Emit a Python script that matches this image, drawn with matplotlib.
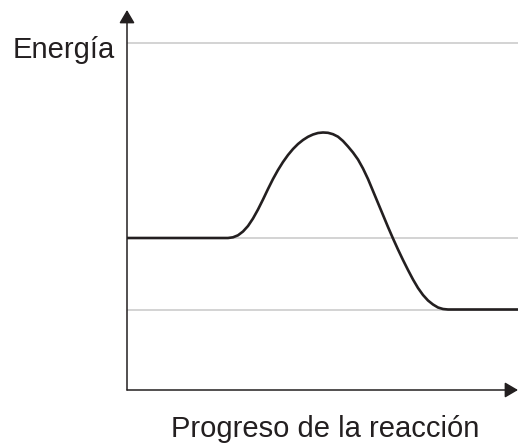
import numpy as np
import matplotlib.pyplot as plt

# ================================
# Datos (unidades arbitrarias)
# ================================

progreso = [0, 101, 106, 111, 116, 121, 126, 131, 136, 141, 146,
            151, 156, 161, 166, 171, 176, 181, 186, 191, 196,
            201, 206, 211, 216, 221, 226, 231, 236, 241, 246,
            251, 256, 261, 266, 271, 276, 281, 286, 291, 296,
            301, 306, 311, 316, 321, 391]
energia = [152, 152, 152.7, 154.7, 158.5, 164, 171.5, 180.5, 190.5, 201, 211,
           220, 228, 235, 241, 246, 250, 253.2, 255.5, 257, 257.5,
           257.2, 255.8, 253.3, 249, 243.5, 237.5, 230.5, 221.5, 211, 199,
           187, 175, 163, 151.5, 140.5, 130, 120, 110.5, 102, 95,
           89.5, 85.5, 82.5, 81, 80.5, 80.5]

niveles = [347, 152, 80.5]   # lineas guia grises

W, H = 518, 447
ink = "#231f20"

fig = plt.figure(figsize=(W / 100, H / 100), dpi=100)
ax = fig.add_axes([127 / W, (H - 390) / H, (W - 127) / W, (390 - 10) / H])
ax.set_xlim(0, 391)
ax.set_ylim(0, 380)
ax.axis("off")

# lineas guia
for nivel in niveles:
    ax.plot([0, 391], [nivel, nivel], color="#c8c8c8", lw=1.1, zorder=1)

# curva de energia
ax.plot(progreso, energia, color=ink, lw=1.9, solid_capstyle="round",
        solid_joinstyle="round", zorder=3)

# ejes con flecha
arrow = dict(arrowstyle="-|>,head_length=0.8,head_width=0.47", mutation_scale=10,
             color=ink, lw=1.1, shrinkA=0, shrinkB=0)
ax.annotate("", xy=(0, 380), xytext=(0, 0), arrowprops=arrow, annotation_clip=False)
ax.annotate("", xy=(391, 0), xytext=(0, 0), arrowprops=arrow, annotation_clip=False)

# textos
fig.text(13 / W, 1 - 58 / H, "Energía", fontsize=21, family="Liberation Sans",
         color=ink, ha="left", va="baseline")
fig.text(325 / W, 1 - 437 / H, "Progreso de la reacción", fontsize=21,
         family="Liberation Sans", color=ink, ha="center", va="baseline")

fig.savefig("out.png", dpi=100)
